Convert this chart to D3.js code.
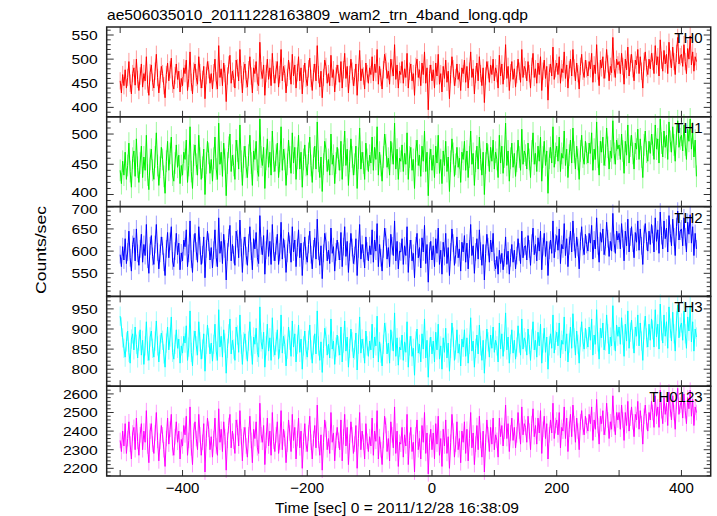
<!DOCTYPE html>
<html><head><meta charset="utf-8">
<script src="https://cdn.jsdelivr.net/npm/d3@7"></script>
<style>body{margin:0;background:#fff}text{font-family:"Liberation Sans",Arial,sans-serif;fill:#000}</style>
</head><body>
<svg id="c" width="717" height="516"></svg>
<script>
const title = "ae506035010_20111228163809_wam2_trn_4band_long.qdp";
const xTitle = "Time [sec] 0 = 2011/12/28 16:38:09";
const yTitle = "Counts/sec";
const bandNames = ["TH0","TH1","TH2","TH3","TH0123"];
const binStart = -500, binStep = 2;

const th0 = [
455,430,468,445,478,440,462,495,450,428,470,482,446,500,458,435,465,490,442,470,455,505,448,425,472,
488,452,440,475,510,462,430,458,485,470,445,420,468,492,455,478,502,448,438,466,490,458,475,432,460,
445,482,470,498,435,460,515,452,428,475,490,462,448,505,472,440,458,485,418,466,495,478,450,470,438,
472,500,455,438,528,462,480,445,492,470,412,465,488,508,450,475,460,440,498,482,455,520,468,430,476,
490,458,442,478,505,465,430,482,470,495,452,445,535,476,460,488,425,470,500,458,482,445,512,468,450,
478,495,442,468,520,455,485,470,430,462,498,475,448,510,465,488,440,472,505,455,482,428,470,492,460,
445,480,502,460,435,472,490,455,528,468,442,475,420,462,498,485,450,470,445,508,462,478,432,465,488,
470,452,495,440,478,512,460,485,430,468,500,475,445,462,490,425,472,518,455,480,465,438,492,470,450,
482,468,505,455,490,472,520,448,485,462,438,478,510,495,460,475,448,500,482,465,530,458,488,440,475,
468,495,450,480,462,512,440,475,490,455,470,425,485,500,462,478,445,492,468,515,450,482,395,470,488,
455,478,440,492,465,510,448,470,432,485,460,498,452,475,418,468,505,480,445,462,490,458,472,435,482,
470,498,452,485,440,475,515,462,480,428,468,492,455,505,470,445,482,410,465,495,478,452,488,468,500,
455,482,470,440,508,465,490,448,475,530,460,485,435,472,495,458,480,442,468,500,475,452,520,462,485,
478,455,495,470,440,485,512,462,480,450,492,468,505,435,475,498,460,485,415,472,490,465,525,458,480,
492,468,505,450,480,472,515,460,488,440,478,500,465,520,482,455,492,470,438,485,510,475,462,498,480,
465,495,480,512,452,488,470,530,475,445,498,482,505,460,478,520,490,455,485,472,545,480,462,500,488,
495,470,512,485,448,500,478,525,465,492,510,480,455,498,488,520,470,505,475,440,495,515,482,468,500,
480,512,495,470,528,488,505,465,540,498,475,518,490,510,470,535,500,482,525,495,468,512,545,490,505,
510,485,530,495,470,522,500,548,488,515,475,505,495];

const th1 = [
440,418,455,432,470,425,448,485,438,412,460,472,430,492,445,420,452,480,428,462,440,498,432,408,458,
475,440,425,462,502,448,415,445,478,458,430,402,455,488,440,468,495,432,422,452,482,445,465,418,448,
432,470,458,490,420,448,512,438,410,465,482,450,432,498,460,425,445,475,400,452,488,468,435,458,422,
460,495,442,425,518,450,470,430,485,458,398,452,478,500,438,465,448,425,490,472,442,515,455,415,462,
480,445,428,465,498,452,415,472,458,488,440,430,525,462,448,478,410,458,492,445,470,432,505,455,438,
465,485,428,455,512,440,475,458,415,450,490,462,435,502,452,478,425,460,498,442,470,412,458,482,448,
432,468,495,448,420,460,480,442,520,455,428,462,405,450,488,475,438,458,432,500,450,465,418,452,478,
458,440,488,425,465,505,448,475,415,455,492,462,432,450,480,410,460,510,442,470,452,425,485,458,438,
465,452,495,440,478,458,512,432,470,448,422,462,500,482,445,460,432,488,468,450,518,442,475,425,460,
455,482,438,468,450,502,425,462,478,440,458,410,472,490,448,465,430,480,455,505,438,470,398,458,475,
440,465,428,480,452,498,435,458,418,472,448,488,438,462,405,455,492,468,430,450,478,445,460,420,470,
458,488,440,472,428,462,505,450,468,415,455,480,442,495,458,432,470,400,452,485,465,438,478,455,490,
442,470,458,428,498,452,480,435,462,518,448,472,422,460,485,445,468,430,455,490,462,440,508,450,472,
465,442,485,458,428,472,502,450,468,438,480,455,495,422,462,488,448,472,402,460,478,452,512,445,468,
480,455,495,438,468,460,505,448,475,428,465,490,452,510,470,442,480,458,425,472,498,462,450,488,468,
452,485,468,502,440,475,458,520,462,432,488,470,495,448,465,510,478,442,472,460,522,468,450,490,475,
482,458,500,472,435,488,465,515,452,480,498,468,442,485,475,508,458,492,462,428,482,505,470,455,488,
468,500,482,458,515,475,492,452,525,485,462,505,478,498,458,520,488,470,512,482,455,500,522,478,492,
498,472,515,482,458,508,488,525,475,502,462,490,430];

const th2 = [
592,565,610,580,628,572,598,645,585,555,615,630,578,650,595,568,605,638,575,615,590,660,582,550,612,
635,588,570,615,660,598,560,595,632,612,575,545,605,642,585,622,655,578,565,600,640,592,618,558,596,
578,625,610,648,565,595,668,582,552,618,640,600,575,655,612,570,592,632,540,605,645,620,580,608,562,
602,648,585,565,675,595,622,572,638,605,535,598,630,658,578,615,592,568,645,628,585,670,608,552,612,
632,590,568,618,655,600,558,628,605,642,585,572,680,612,592,635,548,602,648,588,622,570,660,598,578,
612,638,570,598,665,582,628,605,552,595,642,615,575,655,598,625,565,608,648,585,618,545,600,632,590,
575,615,645,592,560,605,630,582,672,600,568,612,538,595,640,622,578,602,572,652,595,610,555,598,625,
600,580,642,565,610,655,588,622,552,598,640,608,572,590,628,545,605,660,582,615,595,562,632,600,578,
612,592,648,575,625,600,662,565,615,585,555,605,652,632,582,608,565,638,612,590,668,578,622,560,600,
598,628,570,612,590,655,552,605,625,578,595,540,612,640,585,608,562,630,598,658,572,615,530,600,622,
580,612,565,628,595,652,570,602,548,620,588,640,572,608,545,598,650,618,568,592,632,585,605,555,620,
598,635,575,618,560,605,660,590,612,550,598,628,582,648,600,568,615,535,595,638,610,575,625,598,640,
575,560,588,548,602,572,595,558,585,632,570,600,548,585,615,575,602,560,590,628,598,572,645,585,610,
612,580,635,605,568,618,652,592,615,578,630,600,645,558,610,640,588,622,545,602,625,595,668,585,618,
635,602,650,572,615,605,662,590,628,565,612,645,598,668,620,585,632,608,560,622,655,610,592,638,615,
600,640,618,658,582,625,605,675,612,575,642,620,650,592,610,665,628,588,622,600,685,618,595,645,625,
640,605,662,628,578,645,612,672,598,632,655,618,585,642,620,668,602,650,612,570,638,662,622,600,645,
615,660,638,598,675,622,648,595,688,635,605,668,628,652,598,680,640,612,672,632,590,655,690,625,645,
650,612,675,632,598,665,638,682,618,655,590,640,605];

const th3 = [
932,905,878,852,830,868,895,842,815,875,888,848,905,862,828,870,898,835,872,812,858,918,845,822,880,
895,852,830,870,920,858,818,862,890,872,838,805,865,905,848,880,930,842,825,862,898,852,875,815,858,
840,882,865,908,822,855,945,842,808,872,895,858,835,918,868,825,850,888,795,862,910,878,838,865,820,
862,912,845,822,948,855,882,830,898,865,790,852,888,925,838,872,850,822,905,885,842,935,862,812,868,
888,848,820,870,918,858,812,880,862,902,842,830,955,868,850,892,805,858,912,845,878,822,928,855,835,
868,898,825,852,935,840,882,862,808,850,905,872,832,920,855,888,818,862,910,842,875,800,858,895,848,
830,872,910,848,815,860,888,838,945,858,822,868,792,852,902,882,835,862,828,925,850,870,812,855,885,
858,835,905,818,865,920,845,880,805,852,900,868,828,848,890,798,862,930,840,875,852,815,895,858,832,
870,848,912,828,880,858,932,818,868,840,808,862,915,892,838,865,815,898,870,845,940,832,878,810,855,
848,885,822,868,842,918,805,858,882,832,852,785,870,900,840,862,818,888,850,925,828,872,780,855,880,
838,870,818,892,848,912,825,858,800,878,842,902,828,865,795,852,915,880,822,848,898,840,862,808,875,
855,898,832,878,815,862,928,845,870,805,852,885,838,910,858,822,872,790,850,900,868,830,885,852,905,
842,872,858,818,915,850,888,832,868,940,848,880,815,862,898,840,872,825,855,908,865,835,925,850,878,
868,835,900,862,822,875,918,848,872,830,892,858,912,815,865,902,842,880,800,858,888,852,935,840,872,
892,858,915,828,872,862,930,845,888,818,865,905,852,938,878,835,895,862,815,880,918,868,850,902,875,
855,905,872,925,835,885,862,948,868,825,902,878,915,848,870,935,888,838,880,858,958,872,845,910,882,
905,862,928,885,832,912,870,945,852,892,922,875,840,905,882,935,858,915,870,822,898,932,878,855,912,
872,925,898,855,948,880,912,850,962,895,865,935,882,918,852,955,902,870,942,888,845,920,960,878,905,
915,872,945,888,852,930,895,958,868,918,845,900,880];

const th0123 = [
2350,2290,2400,2320,2440,2280,2360,2450,2330,2250,2390,2420,2300,2470,2345,2270,2380,2440,2300,2400,2340,2510,2320,2230,2400,
2440,2330,2280,2390,2500,2350,2240,2345,2430,2380,2300,2210,2360,2470,2330,2410,2490,2310,2270,2370,2450,2340,2400,2250,2355,
2320,2430,2380,2480,2270,2350,2530,2310,2220,2400,2450,2360,2300,2490,2380,2270,2340,2440,2180,2360,2470,2410,2300,2370,2260,
2360,2470,2320,2270,2520,2340,2410,2290,2450,2370,2190,2350,2430,2490,2310,2400,2345,2280,2460,2420,2320,2510,2370,2240,2380,
2420,2320,2260,2380,2480,2350,2230,2410,2360,2450,2310,2280,2550,2380,2340,2430,2220,2350,2470,2320,2400,2270,2500,2345,2290,
2380,2450,2280,2340,2510,2300,2410,2360,2230,2330,2460,2390,2290,2490,2350,2420,2250,2360,2470,2310,2400,2200,2345,2440,2330,
2290,2390,2480,2340,2250,2360,2430,2310,2540,2350,2270,2380,2190,2340,2460,2410,2300,2360,2280,2500,2340,2390,2240,2350,2420,
2350,2300,2460,2240,2370,2490,2320,2420,2220,2340,2450,2380,2280,2330,2430,2200,2360,2500,2300,2400,2340,2250,2440,2345,2290,
2370,2320,2470,2270,2400,2345,2510,2250,2370,2300,2220,2350,2480,2430,2290,2360,2240,2450,2380,2310,2530,2280,2400,2210,2340,
2330,2420,2260,2380,2320,2490,2220,2350,2420,2290,2340,2180,2380,2460,2300,2360,2250,2430,2340,2500,2280,2390,2170,2340,2410,
2300,2390,2250,2440,2330,2480,2270,2360,2210,2410,2320,2460,2280,2370,2200,2340,2490,2400,2260,2330,2450,2300,2360,2230,2400,
2340,2450,2280,2410,2240,2360,2500,2310,2390,2220,2330,2430,2300,2480,2350,2260,2400,2180,2340,2460,2380,2290,2420,2330,2470,
2300,2380,2350,2260,2470,2370,2430,2320,2400,2540,2360,2440,2290,2390,2470,2350,2420,2310,2380,2500,2400,2330,2530,2380,2440,
2420,2340,2480,2400,2300,2440,2520,2370,2430,2330,2470,2390,2510,2280,2410,2480,2360,2440,2250,2380,2460,2390,2550,2360,2430,
2460,2380,2500,2310,2420,2400,2530,2360,2470,2290,2410,2490,2370,2540,2440,2340,2470,2400,2300,2450,2510,2420,2380,2480,2430,
2400,2490,2440,2530,2350,2460,2410,2570,2430,2330,2480,2440,2510,2380,2420,2550,2460,2360,2450,2410,2590,2440,2380,2500,2460,
2500,2410,2540,2460,2350,2500,2430,2560,2400,2470,2530,2450,2370,2490,2460,2560,2410,2510,2440,2330,2480,2540,2450,2400,2500,
2460,2560,2500,2420,2590,2480,2530,2420,2620,2510,2440,2580,2490,2550,2430,2610,2520,2460,2590,2500,2410,2560,2630,2490,2540,
2560,2470,2600,2510,2440,2580,2520,2620,2480,2570,2430,2530,2500];

const seriesValues = [th0, th1, th2, th3, th0123];
const errs = [18, 18, 20, 24, 42];
const yDomains = [[380.5,566.6],[380,528.5],[498,700.3],[757.7,981.1],[2158.6,2641.5]];
const yTicks = [[400,450,500,550],[400,450,500],[550,600,650,700],[800,850,900,950],[2200,2300,2400,2500,2600]];
const yMinorStep = [10,10,10,10,20];
const xTickValues = [-500,-400,-300,-200,-100,0,100,200,300,400];
const xTickLabels = [-400,-200,0,200,400];
const colors = ["#ff0000","#00f000","#0000ff","#00ffff","#ff00ff"];

const svg = d3.select("#c");
const L = 106.7, R = 710.7, T = 27, B = 476;
const ph = (B - T) / 5;
const x = d3.scaleLinear().domain([-521.6, 446.9]).range([L, R]);
const times = th0.map((_, i) => binStart + i * binStep);

seriesValues.forEach((vals, i) => {
  const top = T + i * ph, bot = top + ph;
  const y = d3.scaleLinear().domain(yDomains[i]).range([bot, top]);
  const g = svg.append("g");
  const col = colors[i];
  g.selectAll("line.err").data(vals).join("line")
    .attr("x1", (d, k) => x(times[k])).attr("x2", (d, k) => x(times[k]))
    .attr("y1", d => y(d - errs[i])).attr("y2", d => y(d + errs[i]))
    .attr("stroke", col).attr("stroke-opacity", 0.4).attr("stroke-width", 1);
  g.append("path").datum(vals)
    .attr("d", d3.line().x((d, k) => x(times[k])).y(d => y(d)))
    .attr("fill", "none").attr("stroke", col).attr("stroke-width", 1);
  const [d0, d1] = yDomains[i];
  const m = yMinorStep[i];
  const minors = d3.range(Math.ceil(d0 / m) * m, d1, m).filter(v => !yTicks[i].includes(v));
  const ax = svg.append("g").attr("stroke", "#333").attr("stroke-width", 1);
  minors.forEach(v => {
    ax.append("line").attr("x1", L).attr("x2", L + 4).attr("y1", y(v)).attr("y2", y(v));
    ax.append("line").attr("x1", R).attr("x2", R - 4).attr("y1", y(v)).attr("y2", y(v));
  });
  yTicks[i].forEach(v => {
    ax.append("line").attr("x1", L).attr("x2", L + 7).attr("y1", y(v)).attr("y2", y(v));
    ax.append("line").attr("x1", R).attr("x2", R - 7).attr("y1", y(v)).attr("y2", y(v));
    let yy = y(v);
    if (i === 1 && v === 400) yy -= 2;
    if (i === 2 && v === 700) yy += 2;
    const s = String(v);
    svg.append("text").attr("x", L - 9).attr("y", yy).attr("dy", "0.36em")
      .attr("text-anchor", "end").attr("font-size", 13.5)
      .attr("textLength", s.length * 8.7).attr("lengthAdjust", "spacingAndGlyphs").text(s);
  });
  xTickValues.forEach(v => {
    ax.append("line").attr("x1", x(v)).attr("x2", x(v)).attr("y1", top).attr("y2", top + 6);
    ax.append("line").attr("x1", x(v)).attr("x2", x(v)).attr("y1", bot).attr("y2", bot - 6);
  });
  svg.append("rect").attr("x", L).attr("y", top).attr("width", R - L).attr("height", ph)
    .attr("fill", "none").attr("stroke", "#222").attr("stroke-width", 1.5);
  svg.append("text").attr("x", R - 8).attr("y", top + 16).attr("text-anchor", "end")
    .attr("font-size", 15).text(bandNames[i]);
});

xTickLabels.forEach(v => {
  svg.append("text").attr("x", x(v)).attr("y", 492.5).attr("text-anchor", "middle")
    .attr("font-size", 15).text(v < 0 ? "\u2212" + Math.abs(v) : v);
});
svg.append("text").attr("x", 275).attr("y", 513).attr("font-size", 15)
  .attr("textLength", 244).attr("lengthAdjust", "spacingAndGlyphs").text(xTitle);
svg.append("text").attr("x", 107).attr("y", 20).attr("font-size", 15)
  .attr("textLength", 421).attr("lengthAdjust", "spacingAndGlyphs").text(title);
svg.append("text").attr("transform", "translate(46,250) rotate(-90)").attr("text-anchor", "middle")
  .attr("font-size", 15).attr("textLength", 88).attr("lengthAdjust", "spacingAndGlyphs").text(yTitle);
</script>
</body></html>
